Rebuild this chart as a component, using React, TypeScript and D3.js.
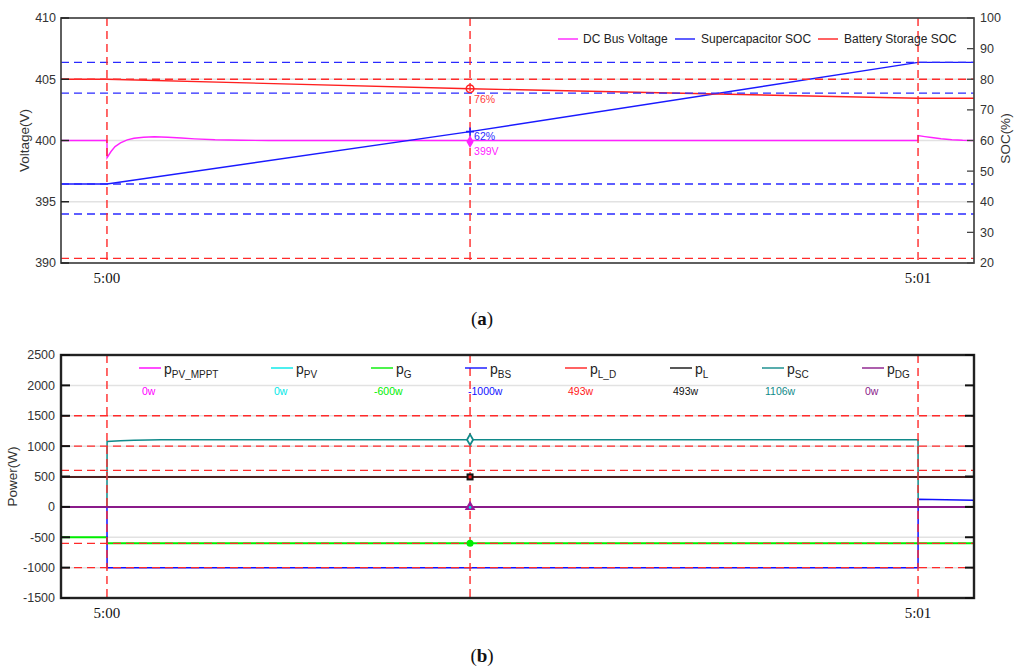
import React from 'react';
import * as d3 from 'd3';

// ---- shared time axis (seconds after 5:00) ----
const timeDomain: [number, number] = [-3.4, 64.14];
const timeTicks = [0, 60];
const timeTickLabels = ['5:00', '5:01'];
const cursorTime = 26.86;
const eventTimes = [0, cursorTime, 60];

// ---- panel (a): DC bus voltage and storage SOC ----
const voltageTicks = [390, 395, 400, 405, 410];
const socTicks = [20, 30, 40, 50, 60, 70, 80, 90, 100];
const busVoltage: [number, number][] = [
  [-3.4, 400], [0, 400], [0.01, 398.6], [0.3, 399.1], [0.6, 399.5], [1, 399.8],
  [1.5, 400.05], [2, 400.18], [2.7, 400.27], [3.5, 400.3], [4.5, 400.27],
  [5.5, 400.2], [6.5, 400.13], [8, 400.06], [10, 400.02], [12, 400], [60, 400],
  [60.01, 400.4], [60.5, 400.32], [61, 400.24], [61.7, 400.14], [62.5, 400.06],
  [63.3, 400.02], [64.14, 400],
];
const supercapSoc: [number, number][] = [
  [-3.4, 45.8], [0, 45.8], [26.86, 62.9], [60, 85.5], [64.14, 85.5],
];
const batterySoc: [number, number][] = [
  [-3.4, 80], [0, 80], [26.86, 76.9], [60, 73.8], [64.14, 73.8],
];
const socBlueLimits = [85.5, 75.5, 45.8, 36];
const socRedLimits = [80, 21.5];
const cursorVoltage = 399.9;
const cursorSupercapSoc = 62.9;
const cursorBatterySoc = 76.9;
const topLegendNames = ['DC Bus Voltage', 'Supercapacitor SOC', 'Battery Storage SOC'];

// ---- panel (b): power flows ----
const powerTicks = [-1500, -1000, -500, 0, 500, 1000, 1500, 2000, 2500];
const powerRedLimits = [1500, 1000, 600, -600, -1000];
const powerNames = ['PV_MPPT', 'PV', 'G', 'BS', 'L_D', 'L', 'SC', 'DG'];
const pPvMppt: [number, number][] = [[-3.4, 0], [64.14, 0]];
const pPv: [number, number][] = [[-3.4, 0], [64.14, 0]];
const pGrid: [number, number][] = [[-3.4, -500], [0, -500], [0.01, -600], [64.14, -600]];
const pBattery: [number, number][] = [
  [-3.4, 0], [0, 0], [0.01, -1000], [60, -1000], [60.01, 125], [64.14, 110],
];
const pLoadDemand: [number, number][] = [[-3.4, 493], [64.14, 493]];
const pLoad: [number, number][] = [[-3.4, 493], [64.14, 493]];
const pSupercap: [number, number][] = [
  [-3.4, 0], [0, 0], [0.01, 1075], [1, 1090], [2, 1098], [4, 1103], [8, 1106],
  [60, 1106], [60.01, 0], [64.14, 0],
];
const pDiesel: [number, number][] = [[-3.4, 0], [64.14, 0]];
const cursorPowers = [0, 0, -600, -1000, 493, 493, 1106, 0];

const powerSeries = [pPvMppt, pPv, pGrid, pBattery, pLoadDemand, pLoad, pSupercap, pDiesel];
const powerColors = ['#ff00ff', '#00e8e8', '#00ee00', '#1010ff', '#ff2020', '#111111', '#108a8a', '#8a1a8a'];
const legendX = [139, 271, 371, 465, 565, 670, 762, 862];

const W = 1017;
const H = 669;
const L = 61;
const R = 974;
const A = { top: 18, bottom: 263 };
const B = { top: 355, bottom: 598 };

const sans = '"Liberation Sans", Arial, sans-serif';
const serif = '"Liberation Serif", "Times New Roman", serif';
const redDash = '#ff2a2a';
const blueDash = '#2a2aff';

export default function App() {
  const x = d3.scaleLinear().domain(timeDomain).range([L, R]);
  const yV = d3.scaleLinear().domain([390, 410]).range([A.bottom, A.top]);
  const ySoc = d3.scaleLinear().domain([20, 100]).range([A.bottom, A.top]);
  const yP = d3.scaleLinear().domain([-1500, 2500]).range([B.bottom, B.top]);

  const lineV = d3.line<[number, number]>().x(d => x(d[0])).y(d => yV(d[1]));
  const lineSoc = d3.line<[number, number]>().x(d => x(d[0])).y(d => ySoc(d[1]));
  const lineP = d3.line<[number, number]>().x(d => x(d[0])).y(d => yP(d[1]));

  const cx = x(cursorTime);
  const diamond = d3.symbol().type(d3.symbolDiamond);
  const triangle = d3.symbol().type(d3.symbolTriangle);

  const topLegend = [
    { name: topLegendNames[0], color: '#ff22ff', lx: 558, tx: 583 },
    { name: topLegendNames[1], color: '#1a1aff', lx: 675, tx: 701 },
    { name: topLegendNames[2], color: '#ff2020', lx: 818, tx: 844 },
  ];

  return (
    <div>
      <svg width={W} height={H} style={{ position: 'absolute', left: 0, top: 0, background: '#fff' }}>
        <defs>
          <clipPath id="clipA"><rect x={L} y={A.top} width={R - L} height={A.bottom - A.top} /></clipPath>
          <clipPath id="clipB"><rect x={L} y={B.top} width={R - L} height={B.bottom - B.top} /></clipPath>
        </defs>

        {/* ===== panel (a) ===== */}
        <rect x={L} y={A.top} width={R - L} height={A.bottom - A.top} fill="#fff" />
        {voltageTicks.slice(1, -1).map(v => (
          <line key={'ga' + v} x1={L} x2={R} y1={yV(v)} y2={yV(v)} stroke="#e2e2e2" strokeWidth={1.5} />
        ))}
        <g clipPath="url(#clipA)" fill="none" strokeWidth={1.4}>
          <path d={lineV(busVoltage) || ''} stroke="#ff22ff" />
          <path d={lineSoc(supercapSoc) || ''} stroke="#1a1aff" />
          <path d={lineSoc(batterySoc) || ''} stroke="#ff2020" />
        </g>
        {socBlueLimits.map(v => (
          <line key={'bl' + v} x1={L} x2={R} y1={ySoc(v)} y2={ySoc(v)} stroke={blueDash} strokeWidth={1.3} strokeDasharray="8,5" />
        ))}
        {socRedLimits.map(v => (
          <line key={'rl' + v} x1={L} x2={R} y1={ySoc(v)} y2={ySoc(v)} stroke={redDash} strokeWidth={1.3} strokeDasharray="8,5" />
        ))}
        {eventTimes.map(t => (
          <line key={'va' + t} x1={x(t)} x2={x(t)} y1={A.top} y2={A.bottom} stroke={redDash} strokeWidth={1.4} strokeDasharray="8,5" />
        ))}
        {/* data tips at the cursor */}
        <circle cx={cx} cy={ySoc(cursorBatterySoc)} r={3.8} fill="none" stroke="#ff2020" strokeWidth={1.5} />
        <path d={`M${cx - 4},${ySoc(cursorSupercapSoc)}h8M${cx},${ySoc(cursorSupercapSoc) - 4}v8`} stroke="#1a1aff" strokeWidth={1.6} />
        <path d={diamond.size(45)() || ''} transform={`translate(${cx},${yV(cursorVoltage)})`} fill="#ff22ff" />
        <text x={cx + 4} y={ySoc(cursorBatterySoc) + 14} fontFamily={sans} fontSize={10.5} fill="#ff4040">{Math.floor(cursorBatterySoc)}%</text>
        <text x={cx + 4} y={ySoc(cursorSupercapSoc) + 8} fontFamily={sans} fontSize={10.5} fill="#2a2aff">{Math.floor(cursorSupercapSoc)}%</text>
        <text x={cx + 4} y={yV(cursorVoltage) + 13} fontFamily={sans} fontSize={10.5} fill="#ff22ff">{Math.floor(cursorVoltage)}V</text>

        {/* legend */}
        {topLegend.map(d => (
          <g key={d.name}>
            <line x1={d.lx} x2={d.lx + 20} y1={39} y2={39} stroke={d.color} strokeWidth={1.4} />
            <text x={d.tx} y={43} fontFamily={sans} fontSize={12} fill="#222">{d.name}</text>
          </g>
        ))}

        {/* frame, ticks, labels */}
        <rect x={L} y={A.top} width={R - L} height={A.bottom - A.top} fill="none" stroke="#444" strokeWidth={1.7} />
        {voltageTicks.map(v => (
          <g key={'vt' + v}>
            <line x1={L} x2={L + 8} y1={yV(v)} y2={yV(v)} stroke="#222" strokeWidth={1.5} />
            <text x={56} y={yV(v)} dy="0.35em" textAnchor="end" fontFamily={sans} fontSize={12.5} fill="#333">{v}</text>
          </g>
        ))}
        {socTicks.map(v => (
          <g key={'st' + v}>
            <line x1={R - 7} x2={R} y1={ySoc(v)} y2={ySoc(v)} stroke="#444" strokeWidth={1.3} />
            <text x={980} y={ySoc(v)} dy="0.35em" fontFamily={sans} fontSize={12.5} fill="#333">{v}</text>
          </g>
        ))}
        {timeTicks.map((t, i) => (
          <text key={'ta' + t} x={x(t)} y={283} textAnchor="middle" fontFamily={serif} fontSize={15} fill="#111">{timeTickLabels[i]}</text>
        ))}
        <text transform={`translate(29,${(A.top + A.bottom) / 2}) rotate(-90)`} textAnchor="middle" fontFamily={sans} fontSize={13.5} fill="#333">Voltage(V)</text>
        <text transform={`translate(1010,${(A.top + A.bottom) / 2 - 2}) rotate(-90)`} textAnchor="middle" fontFamily={sans} fontSize={13.5} fill="#333">SOC(%)</text>
        <text x={482} y={325} textAnchor="middle" fontFamily={serif} fontSize={19} fill="#111">(<tspan fontWeight="bold">a</tspan>)</text>

        {/* ===== panel (b) ===== */}
        <rect x={L} y={B.top} width={R - L} height={B.bottom - B.top} fill="#fff" />
        {powerTicks.slice(1, -1).map(v => (
          <line key={'gb' + v} x1={L} x2={R} y1={yP(v)} y2={yP(v)} stroke="#e2e2e2" strokeWidth={1.5} />
        ))}
        <g clipPath="url(#clipB)" fill="none" strokeWidth={1.5}>
          {powerSeries.map((s, i) => (
            <path key={'ps' + i} d={lineP(s) || ''} stroke={powerColors[i]} strokeWidth={i === 7 || i === 2 ? 2 : 1.5} />
          ))}
        </g>
        {powerRedLimits.map(v => (
          <line key={'prl' + v} x1={L} x2={R} y1={yP(v)} y2={yP(v)} stroke={redDash} strokeWidth={1.3} strokeDasharray="8,5" />
        ))}
        {eventTimes.map(t => (
          <line key={'vb' + t} x1={x(t)} x2={x(t)} y1={B.top} y2={B.bottom} stroke={redDash} strokeWidth={1.4} strokeDasharray="8,5" />
        ))}
        {/* data tips at the cursor */}
        <circle cx={cx} cy={yP(cursorPowers[2])} r={3.5} fill="#00ee00" />
        <path d={triangle.size(50)() || ''} transform={`translate(${cx},${yP(cursorPowers[7])})`} fill="#9a1a9a" />
        <circle cx={cx} cy={yP(cursorPowers[1]) + 0.5} r={1.3} fill="#00e8e8" />
        <rect x={cx - 3.5} y={yP(cursorPowers[5]) - 3.5} width={7} height={7} fill="#111" />
        <rect x={cx - 1.5} y={yP(cursorPowers[4]) - 1.5} width={3} height={3} fill="#ff2020" />
        <path d={diamond.size(32)() || ''} transform={`translate(${cx},${yP(cursorPowers[6])})`} fill="#fff" stroke="#108a8a" strokeWidth={1.8} />

        {/* legend with values */}
        {powerNames.map((n, i) => (
          <g key={'lg' + n}>
            <line x1={legendX[i]} x2={legendX[i] + 22} y1={368} y2={368} stroke={powerColors[i]} strokeWidth={1.4} />
            <text x={legendX[i] + 25} y={374} fontFamily={sans} fontSize={14} fill="#222">
              p<tspan dy={4} fontSize={10}>{n}</tspan>
            </text>
            <text x={legendX[i] + 3} y={395} fontFamily={sans} fontSize={10.5} fill={powerColors[i]}>{cursorPowers[i]}w</text>
          </g>
        ))}

        {/* frame, ticks, labels */}
        <rect x={L} y={B.top} width={R - L} height={B.bottom - B.top} fill="none" stroke="#222" strokeWidth={2.4} />
        {powerTicks.map(v => (
          <g key={'pt' + v}>
            <line x1={L} x2={L + 9} y1={yP(v)} y2={yP(v)} stroke="#111" strokeWidth={2} />
            <line x1={R - 9} x2={R} y1={yP(v)} y2={yP(v)} stroke="#111" strokeWidth={2} />
            <text x={55} y={yP(v)} dy="0.35em" textAnchor="end" fontFamily={sans} fontSize={12.5} fill="#333">{v}</text>
          </g>
        ))}
        {timeTicks.map((t, i) => (
          <text key={'tb' + t} x={x(t)} y={618} textAnchor="middle" fontFamily={serif} fontSize={15} fill="#111">{timeTickLabels[i]}</text>
        ))}
        <text transform={`translate(17,${(B.top + B.bottom) / 2}) rotate(-90)`} textAnchor="middle" fontFamily={sans} fontSize={13.5} fill="#333">Power(W)</text>
        <text x={482} y={662} textAnchor="middle" fontFamily={serif} fontSize={19} fill="#111">(<tspan fontWeight="bold">b</tspan>)</text>
      </svg>
    </div>
  );
}
